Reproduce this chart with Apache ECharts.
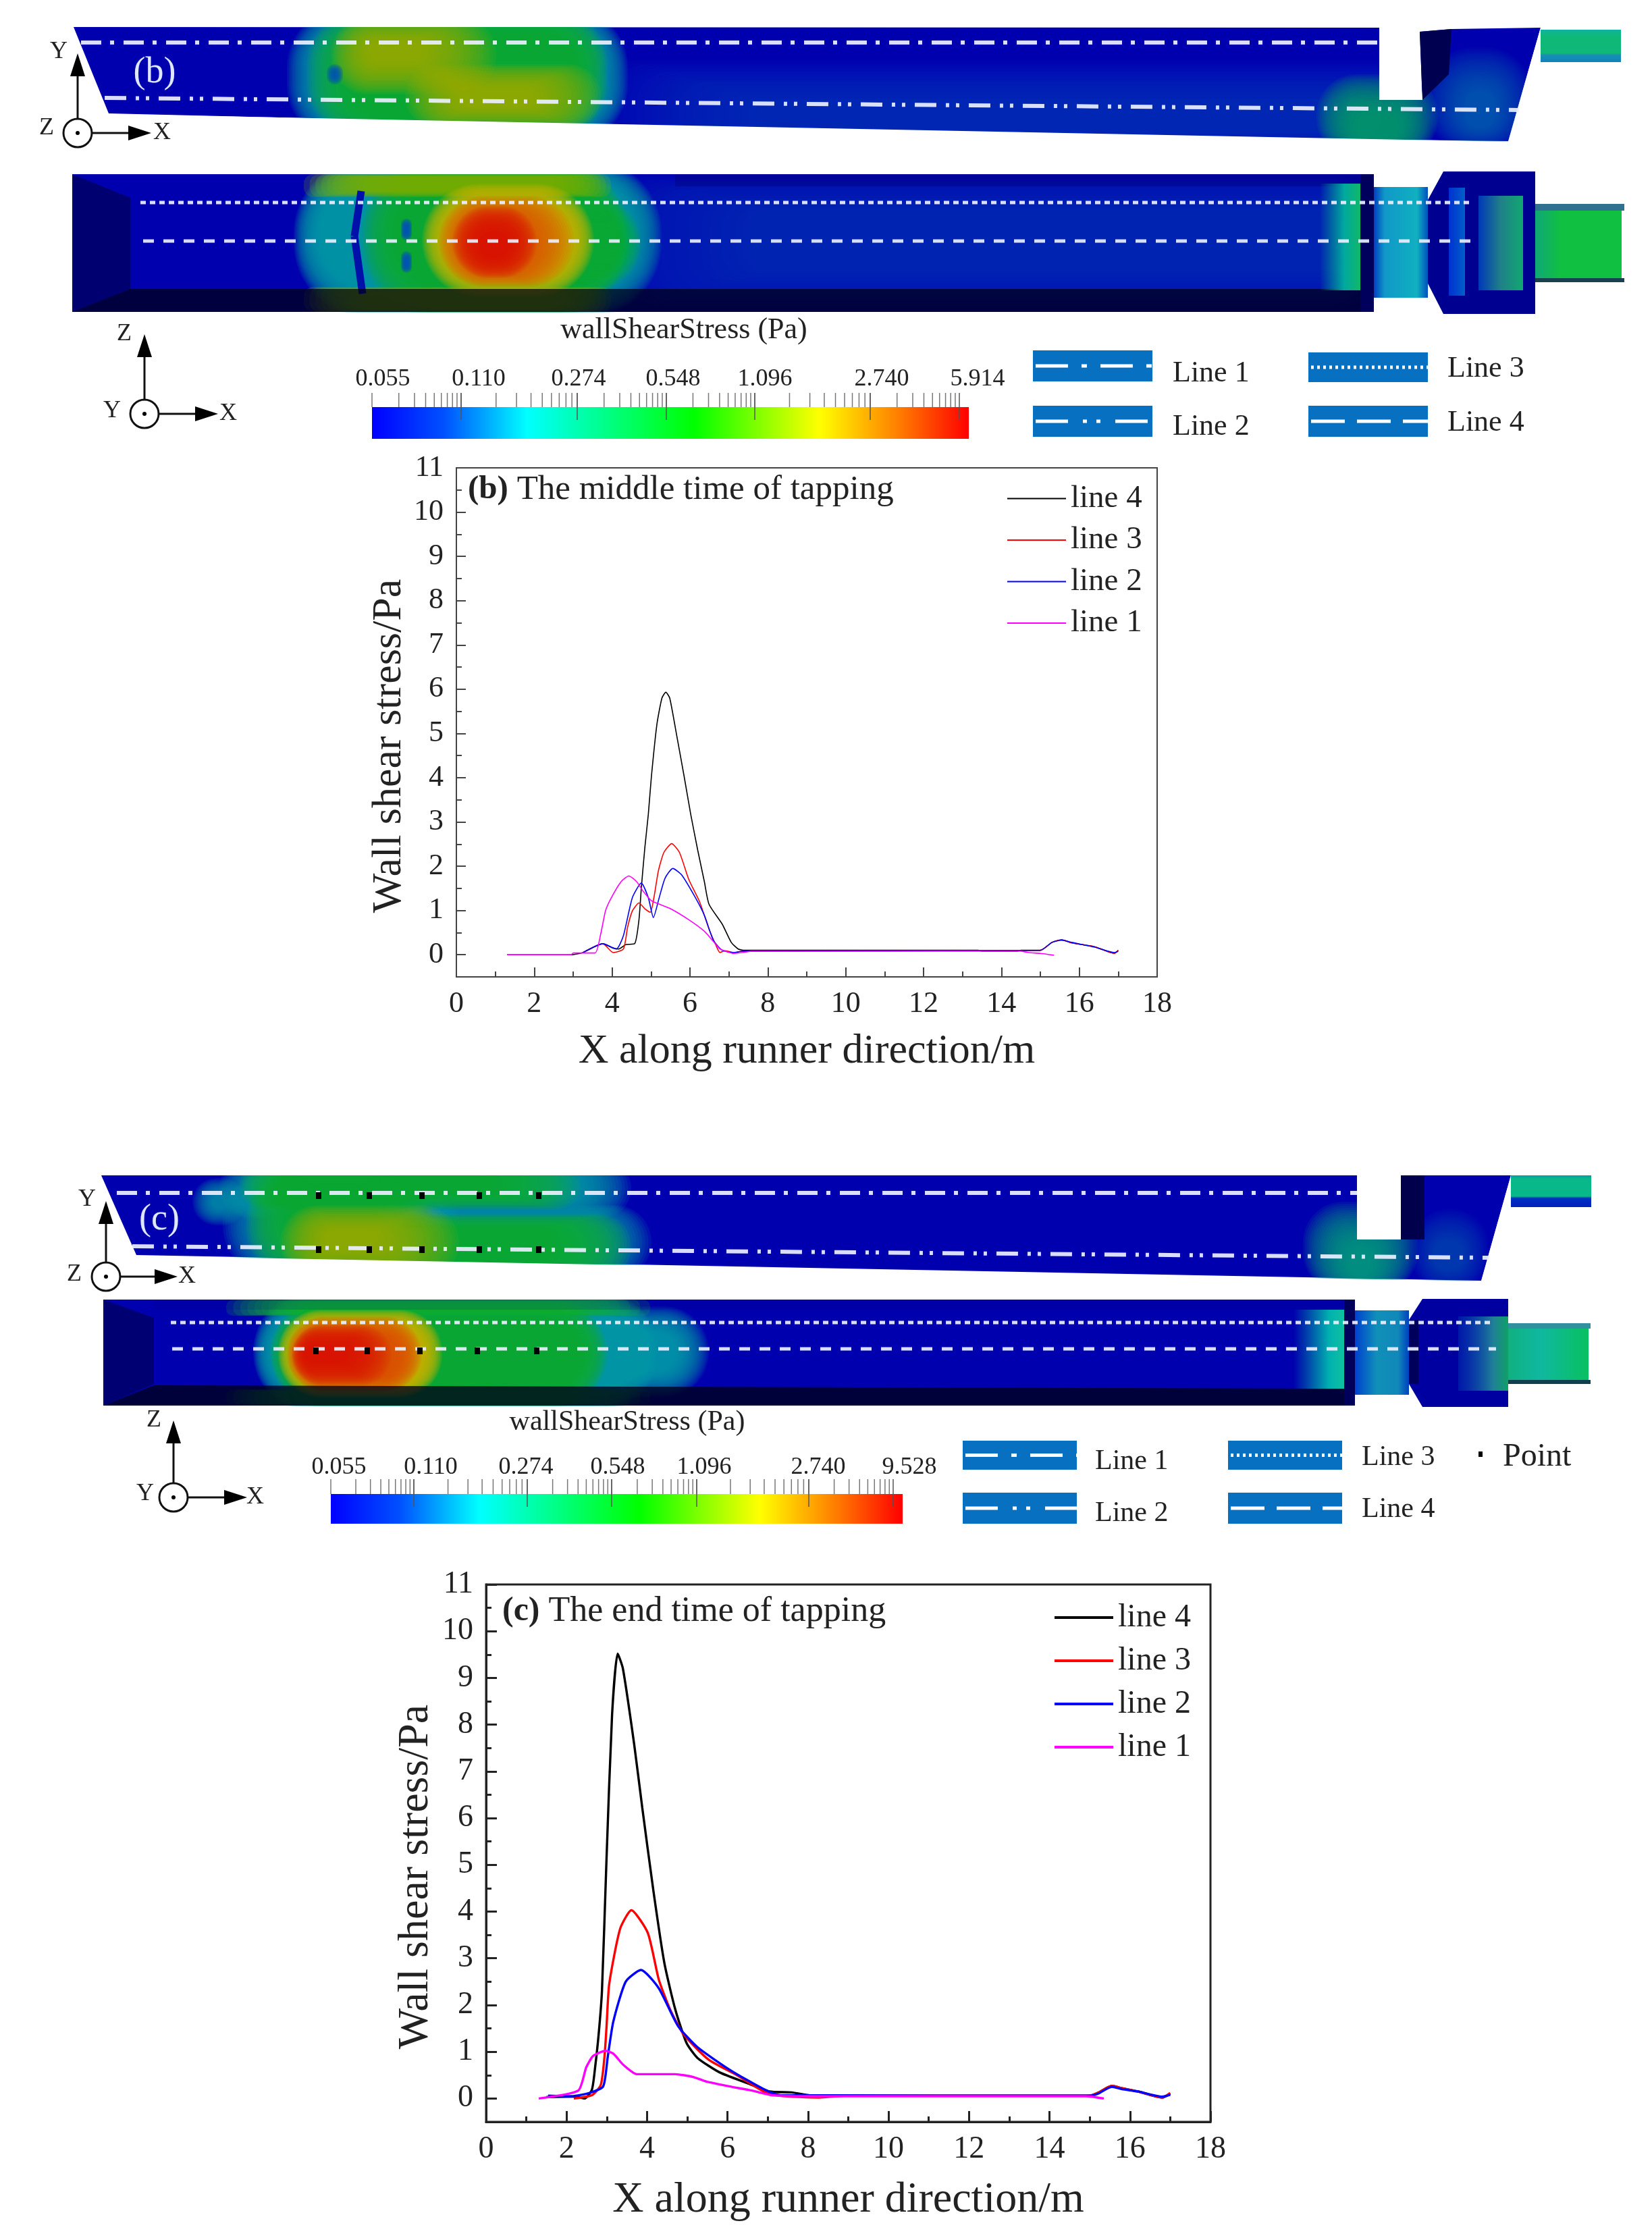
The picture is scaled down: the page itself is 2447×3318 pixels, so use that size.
<!DOCTYPE html>
<html>
<head>
<meta charset="utf-8">
<title>Wall shear stress along the runner</title>
<style>
  html, body { margin: 0; background: #fff; }
  #chart { width: 2447px; height: 3318px; filter: blur(0.7px); }
</style>
<script src="https://cdn.jsdelivr.net/npm/echarts@6/dist/echarts.min.js"></script>
</head>
<body>
<div id="chart"></div>
<script>
const xTicks = [0, 2, 4, 6, 8, 10, 12, 14, 16, 18]
const yTicks = [0, 1, 2, 3, 4, 5, 6, 7, 8, 9, 10, 11]
const lineNames = ['line 4', 'line 3', 'line 2', 'line 1']

// middle time of tapping, [x, stress]
const midLine4 = [[1.3,0],[2.95,0],[3.25,.05],[3.54,.18],[3.76,.25],[4.03,.15],[4.17,.13],[4.35,.23],[4.58,.25],[4.69,.79],[4.75,1.5],[4.84,2.41],[4.93,3.17],[5.01,4.03],[5.15,5.2],[5.28,5.8],[5.38,5.93],[5.48,5.8],[5.65,5],[5.85,4.03],[6.02,3.17],[6.2,2.36],[6.37,1.65],[6.49,1.14],[6.83,.69],[7.06,.28],[7.24,.13],[7.4,.1],[13.4,.1],[13.5,.08],[14.4,.08],[14.5,.1],[15,.1],[15.3,.28],[15.55,.34],[15.8,.27],[16.4,.18],[16.9,.03],[17,.1]]
const midLine3 = [[3.25,.05],[3.76,.25],[4.03,.05],[4.29,.13],[4.4,.63],[4.52,.99],[4.69,1.17],[4.84,1.04],[4.98,.96],[5.07,1.27],[5.19,1.9],[5.33,2.31],[5.53,2.51],[5.73,2.31],[5.97,1.7],[6.25,1.19],[6.49,.58],[6.66,.23],[6.77,.05],[6.9,.09],[7.12,.05],[7.35,.08],[15,.1],[15.3,.28],[15.55,.34],[15.8,.27],[16.4,.18],[16.9,.03],[17,.1]]
const midLine2 = [[3.25,.05],[3.54,.18],[3.76,.25],[4.11,.13],[4.29,.43],[4.52,1.29],[4.75,1.62],[4.93,1.29],[5.06,.84],[5.21,1.29],[5.36,1.73],[5.56,1.95],[5.79,1.8],[6.14,1.29],[6.37,.89],[6.6,.33],[6.83,.1],[7.12,.05],[7.35,.08],[15,.1],[15.3,.28],[15.55,.33],[15.8,.28],[16.4,.17],[16.9,.05],[17,.08]]
const midLine1 = [[1.3,0],[2.95,0],[3,.04],[3.56,.04],[3.71,.48],[3.83,.99],[3.97,1.27],[4.23,1.65],[4.43,1.78],[4.63,1.65],[4.81,1.42],[5.01,1.22],[5.19,1.15],[5.5,1.04],[5.97,.79],[6.37,.53],[6.6,.3],[6.77,.13],[6.89,.09],[7.12,.03],[7.35,.05],[7.6,.08],[14.5,.08],[14.7,.05],[15,.03],[15.35,-.01]]

// end time of tapping, [x, stress]
const endLine4 = [[1.5,.03],[2.2,.04],[2.45,0],[2.63,.19],[2.71,.67],[2.8,1.4],[2.88,2.31],[2.99,5.06],[3.13,8.2],[3.27,9.52],[3.4,9.2],[3.68,7.58],[3.88,6.23],[4.16,4.43],[4.43,2.9],[4.7,1.91],[4.98,1.19],[5.25,.87],[5.8,.56],[6.49,.33],[7.04,.15],[7.59,.13],[8.13,.06],[15,.06],[15.2,.12],[15.55,.27],[15.8,.22],[16.2,.15],[16.8,.02],[17,.1]]
const endLine3 = [[2.18,0],[2.63,.07],[2.85,.29],[2.94,.87],[2.99,1.49],[3.06,2.45],[3.33,3.63],[3.61,4.03],[4.02,3.54],[4.29,2.55],[4.57,1.91],[4.91,1.37],[5.53,.83],[6.21,.51],[6.9,.15],[7.31,.06],[8.27,.02],[8.96,.06],[15,.06],[15.2,.12],[15.55,.27],[15.8,.22],[16.2,.15],[16.8,.02],[17,.12]]
const endLine2 = [[1.54,.06],[2.13,.05],[2.57,.12],[2.91,.26],[3.02,.87],[3.16,1.64],[3.47,2.5],[3.85,2.75],[4.29,2.36],[4.77,1.55],[5.25,1.1],[6.08,.6],[6.9,.2],[7.31,.07],[15,.06],[15.2,.1],[15.55,.25],[15.8,.2],[16.2,.15],[16.8,.04],[17,.08]]
const endLine1 = [[1.31,0],[2.29,.17],[2.49,.67],[2.66,.91],[2.97,1.02],[3.16,.96],[3.41,.72],[3.75,.52],[4.7,.52],[5.15,.46],[5.48,.36],[6.04,.26],[6.6,.17],[7.1,.07],[7.72,.05],[14.9,.05],[15.35,0]]

const midScaleLabels = ['0.055', '0.110', '0.274', '0.548', '1.096', '2.740', '5.914']
const endScaleLabels = ['0.055', '0.110', '0.274', '0.548', '1.096', '2.740', '9.528']

const serif = '"Liberation Serif"'
const lineColors = ['#000000', '#ff0000', '#0000ff', '#ff00ff']
const tealC = '#00a0a8'
const greenC = '#10b030'
const oliveC = '#a8ae00'
const yellowC = '#d0b800'
const orangeC = '#e05000'
const redC = '#d81408'
const liftC = '#1040c0'

function poly(points, fill) {
  return { type: 'polygon', silent: true, shape: { points }, style: { fill } }
}
function box(x, y, w, h, fill) {
  return { type: 'rect', silent: true, shape: { x, y, width: w, height: h }, style: { fill } }
}
function linear(x0, y0, x1, y1, stops) {
  return new echarts.graphic.LinearGradient(x0, y0, x1, y1, stops.map(s => ({ offset: s[0], color: s[1] })))
}
// soft patch: stacked rounded boxes going from outer to inner, each a bit more opaque on top of the last
function field(outer, inner, color, steps, alpha) {
  const n = steps || 24
  const out = []
  for (let i = 0; i < n; i++) {
    const t = i / (n - 1)
    const p = outer.map((v, k) => v + (inner[k] - v) * t)
    out.push({
      type: 'rect', silent: true,
      shape: { x: p[0], y: p[1], width: p[2] - p[0], height: p[3] - p[1], r: p[4] },
      style: { fill: color, opacity: alpha || 0.12 }
    })
  }
  return out
}
function seg(x1, y1, x2, y2, color, width, dash) {
  return {
    type: 'line', silent: true, shape: { x1, y1, x2, y2 },
    style: { stroke: color, lineWidth: width, lineDash: dash || null }
  }
}
function label(text, x, y, size, opts) {
  return {
    type: 'text', silent: true, x, y,
    style: Object.assign({ text, fontSize: size, fontFamily: serif, fill: '#222', align: 'center', verticalAlign: 'middle' }, opts || {})
  }
}

const dashOne = [30, 13, 6, 14]
const dashTwo = [32, 14, 5, 10, 5, 14]
const dashThree = [8, 6]
const dashFour = [16, 14]
const dashColor = 'rgba(235,240,255,0.92)'

function axesIcon(cx, cy, up, right, names) {
  return [
    seg(cx, cy - 21, cx, up + 22, '#111', 3),
    poly([[cx, up], [cx - 11, up + 34], [cx + 11, up + 34]], '#000'),
    seg(cx + 21, cy, right - 22, cy, '#111', 3),
    poly([[right, cy], [right - 34, cy - 11], [right - 34, cy + 11]], '#000'),
    { type: 'circle', silent: true, shape: { cx, cy, r: 21 }, style: { fill: '#fff', stroke: '#111', lineWidth: 3 } },
    { type: 'circle', silent: true, shape: { cx, cy, r: 3 }, style: { fill: '#000' } },
    label(names[0].t, names[0].x, names[0].y, 36),
    label(names[1].t, names[1].x, names[1].y, 36),
    label('X', names[2].x, names[2].y, 36)
  ]
}

function colorBar(left, right, top, bottom, tickTop, majorEnd, majors, names, nameXs, nameY) {
  const out = [box(left, top, right - left, bottom - top, linear(0, 0, 1, 0, [
    [0, '#0000ff'], [.12, '#0050ff'], [.26, '#00ffff'], [.54, '#00ff00'], [.75, '#ffff00'], [.88, '#ff8000'], [1, '#ff0000']
  ]))]
  const edges = [left].concat(majors)
  for (let i = 0; i < edges.length - 1; i++) {
    for (let n = 1; n < 10; n++) {
      const px = edges[i] + Math.log10(n) * (edges[i + 1] - edges[i])
      out.push(seg(px, tickTop, px, top, '#777', 1.5))
    }
  }
  majors.forEach(px => out.push(seg(px, tickTop, px, majorEnd, '#555', 1.5)))
  names.forEach((t, i) => out.push(label(t, nameXs[i], nameY, 36)))
  return out
}

function swatch(x, y, w, h, dash, width) {
  return [box(x, y, w, h, '#0870c0'), seg(x + 4, y + h / 2, x + w, y + h / 2, '#fff', width, dash)]
}

// top block (b), contour views
const panelB = [
  // side view
  poly([[109,40],[2043,41],[2043,148],[2107,148],[2103,47],[2150,43],[2282,41],[2234,209],[1500,200],[161,168]], '#0000ae'),
  ...field([880,90,2130,230,60], [1120,150,1990,195,20], liftC, 24, 0.04),
  ...field([425,10,930,215,90], [485,46,875,176,50], tealC),
  ...field([455,15,900,205,80], [530,55,850,170,45], greenC),
  ...field([490,25,735,140,55], [545,62,625,92,15], oliveC, 24, 0.08),
  ...field([600,95,890,190,47], [680,130,790,158,14], oliveC, 24, 0.08),
  ...field([484,95,508,125,12], [494,106,498,114,2], '#0050b8', 8, 0.25),
  ...field([1950,110,2130,235,60], [2010,170,2070,205,16], '#0aa070', 24, 0.1),
  ...field([2110,70,2270,225,70], [2170,135,2215,190,20], '#0070b0', 24, 0.05),
  poly([[2103,47],[2150,43],[2146,110],[2107,148]], '#000050'),
  // white masks around the side view
  box(100, 0, 2310, 40, '#fff'),
  poly([[100,169],[161,169],[2234,210],[2300,210],[2300,257],[100,257]], '#fff'),
  poly([[2043,41],[2100,41],[2107,148],[2043,148]], '#fff'),
  poly([[2282,41],[2310,41],[2310,210],[2234,210]], '#fff'),
  box(2282, 44, 119, 48, linear(0, 0, 0, 1, [[0,'#0cb4a0'],[.2,'#10b878'],[.72,'#10b878'],[.78,'#1890b0'],[1,'#1080c0']])),
  seg(120, 63, 2043, 63, dashColor, 6, dashOne),
  seg(155, 145, 2250, 163, dashColor, 6, dashTwo),
  label('(b)', 229, 108, 54, { fill: '#dfe6ff' }),
  // front view
  box(107, 258, 1928, 204, '#0000ae'),
  ...field([880,258,2035,462,60], [1110,310,1990,400,30], liftC, 24, 0.05),
  ...field([435,235,980,470,110], [475,268,925,425,75], tealC),
  ...field([535,235,930,470,110], [590,274,885,420,70], greenC),
  ...field([790,290,950,430,70], [830,330,915,390,30], greenC, 24, 0.08),
  ...field([450,258,905,292,14], [545,262,820,282,8], '#7ab000', 12, 0.2),
  ...field([450,425,905,462,14], [545,432,820,458,8], '#7ab000', 12, 0.2),
  ...field([625,272,880,440,84], [665,305,840,405,50], yellowC),
  ...field([650,290,850,425,67], [700,330,762,392,30], orangeC, 24, 0.1),
  ...field([670,305,795,412,53], [712,345,752,380,17], redC, 24, 0.1),
  seg(535, 283, 525, 350, '#0010a8', 11),
  seg(525, 350, 537, 435, '#0010a8', 11),
  ...field([594,324,610,356,8], [600,335,604,345,2], '#0050b8', 8, 0.3),
  ...field([594,372,610,404,8], [600,384,604,394,2], '#0050b8', 8, 0.3),
  poly([[107,258],[193,293],[193,428],[107,462]], '#000070'),
  poly([[107,462],[193,428],[2035,428],[2035,462]], 'rgba(0,0,20,.72)'),
  poly([[1000,258],[2035,258],[2015,276],[1000,276]], 'rgba(0,0,100,.3)'),
  box(1955, 272, 60, 158, linear(0, 0, 1, 0, [[0,'rgba(0,170,140,0)'],[.6,'#00a8a0'],[1,'#10b868']])),
  box(2015, 258, 20, 204, '#00005c'),
  box(2035, 277, 80, 164, linear(0, 0, 1, 0, [[0,'#0040c0'],[.2,'#1098c8'],[.8,'#10b0c0'],[1,'#0050c0']])),
  poly([[2115,296],[2138,254],[2274,254],[2274,465],[2138,465],[2115,420]], '#000090'),
  box(2146, 278, 24, 160, linear(0, 0, 1, 0, [[0,'#0030d0'],[1,'#0060c8']])),
  box(2190, 290, 66, 140, linear(0, 0, 1, 0, [[0,'#0038b8'],[.5,'#208088'],[1,'#10a870']])),
  box(2274, 302, 128, 116, linear(0, 0, 1, 0, [[0,'#10a878'],[.3,'#10c040'],[1,'#10c040']])),
  box(2274, 302, 132, 10, '#307090'),
  box(2274, 412, 132, 6, '#184050'),
  seg(208, 300, 2182, 300, dashColor, 5, dashThree),
  seg(212, 357, 2182, 357, dashColor, 5, dashFour),
  box(400, 463, 620, 20, '#fff'),
  box(400, 200, 620, 58, '#fff'),
  label('wallShearStress (Pa)', 1013, 489, 44),
  ...swatch(1530, 519, 177, 46, [48, 20, 8, 20], 5),
  ...swatch(1530, 601, 177, 46, [48, 22, 6, 14, 6, 22], 5),
  ...swatch(1938, 522, 177, 44, [4, 5], 5),
  ...swatch(1938, 601, 177, 46, [50, 18], 5),
  label('Line 1', 1737, 553, 44, { align: 'left' }),
  label('Line 2', 1737, 632, 44, { align: 'left' }),
  label('Line 3', 2144, 546, 44, { align: 'left' }),
  label('Line 4', 2144, 626, 44, { align: 'left' })
]

// lower block (c), contour views
const panelC = [
  // side view
  poly([[150,1741],[2010,1741],[2010,1836],[2075,1836],[2075,1741],[2238,1741],[2194,1897],[202,1859]], '#0000ae'),
  ...field([285,1745,365,1815,35], [315,1770,335,1790,10], tealC, 16, 0.1),
  ...field([325,1715,935,1805,45], [400,1741,830,1772,15], tealC),
  ...field([330,1730,680,1895,80], [420,1760,580,1855,40], tealC),
  ...field([400,1785,965,1895,55], [490,1815,860,1872,28], tealC),
  ...field([355,1720,860,1792,36], [440,1741,720,1765,12], greenC),
  ...field([365,1735,640,1890,70], [440,1765,560,1850,40], greenC),
  ...field([430,1798,935,1895,48], [520,1822,810,1872,25], greenC),
  ...field([415,1785,680,1895,55], [480,1822,560,1850,14], oliveC, 24, 0.08),
  ...field([1930,1780,2100,1915,60], [2000,1850,2030,1890,14], '#0aa080', 24, 0.1),
  ...field([2090,1790,2205,1915,55], [2125,1840,2165,1880,18], '#0060b0', 24, 0.04),
  box(2075, 1741, 35, 95, '#00004c'),
  box(140, 1700, 2230, 41, '#fff'),
  poly([[190,1860],[202,1860],[2194,1898],[2260,1898],[2260,1924],[190,1924]], '#fff'),
  poly([[2010,1730],[2075,1730],[2075,1836],[2010,1836]], '#fff'),
  poly([[2238,1741],[2265,1741],[2265,1898],[2194,1898]], '#fff'),
  box(2238, 1741, 119, 47, linear(0, 0, 0, 1, [[0,'#0898a8'],[.1,'#08b888'],[.66,'#08b888'],[.72,'#0030c0'],[1,'#0020c0']])),
  seg(173, 1767, 2010, 1767, dashColor, 6, dashOne),
  seg(196, 1846, 2206, 1863, dashColor, 6, dashTwo),
  label('(c)', 236, 1807, 54, { fill: '#dfe6ff' }),
  // front view
  box(153, 1925, 1854, 157, '#0000ae'),
  ...field([375,1915,975,2090,85], [405,1950,920,2056,50], tealC),
  ...field([800,1935,1050,2070,67], [860,1975,1000,2030,27], tealC, 24, 0.1),
  ...field([400,1925,900,2085,80], [432,1958,860,2056,48], greenC),
  ...field([335,1925,963,1949,10], [450,1928,800,1945,6], greenC, 12, 0.2),
  ...field([335,2058,963,2082,10], [450,2062,800,2078,6], greenC, 12, 0.2),
  ...field([412,1940,655,2070,62], [438,1962,622,2052,44], yellowC),
  ...field([425,1950,625,2062,56], [450,1980,590,2040,30], orangeC, 24, 0.1),
  ...field([432,1962,580,2052,45], [452,1995,512,2016,10], redC, 24, 0.1),
  poly([[153,1925],[228,1952],[228,2050],[153,2082]], '#000072'),
  poly([[153,2082],[228,2052],[2007,2057],[2007,2082]], 'rgba(0,0,25,.78)'),
  poly([[228,1925],[2007,1925],[1991,1940],[228,1940]], 'rgba(0,0,120,.15)'),
  box(1916, 1940, 75, 117, linear(0, 0, 1, 0, [[0,'rgba(0,170,160,0)'],[.7,'#00b0b0'],[1,'#10c0a0']])),
  box(1991, 1925, 16, 157, '#00005c'),
  box(2007, 1941, 80, 125, linear(0, 0, 1, 0, [[0,'#0040d0'],[.4,'#1090b8'],[.8,'#1088b8'],[1,'#0040c0']])),
  poly([[2087,1955],[2107,1924],[2234,1924],[2234,2084],[2107,2084],[2087,2050]], '#0000a0'),
  box(2087, 1955, 14, 95, '#00005c'),
  box(2160, 1950, 74, 110, linear(0, 0, 1, 0, [[0,'rgba(0,60,180,.4)'],[.7,'#208098'],[1,'#10a068']])),
  box(2234, 1963, 119, 84, linear(0, 0, 1, 0, [[0,'#10b080'],[.4,'#10b8a0'],[1,'#08c060']])),
  box(2234, 1960, 122, 8, '#3090a0'),
  box(2234, 2044, 122, 6, '#104050'),
  seg(253, 1959, 2210, 1959, dashColor, 5, dashThree),
  seg(255, 1998, 2216, 1998, dashColor, 5, dashFour),
  // point markers
  ...[472, 547, 625, 710, 798].map(x => box(x - 4, 1766, 8, 10, '#000')),
  ...[472, 547, 625, 710, 798].map(x => box(x - 4, 1846, 8, 10, '#000')),
  ...[468, 544, 622, 707, 795].map(x => box(x - 4, 1996, 8, 10, '#000')),
  box(370, 1885, 620, 40, '#fff'),
  box(370, 2083, 620, 10, '#fff'),
  label('wallShearStress (Pa)', 929, 2107, 42),
  ...swatch(1426, 2134, 169, 43, [48, 20, 8, 20], 5),
  ...swatch(1426, 2211, 169, 46, [48, 22, 6, 14, 6, 22], 5),
  ...swatch(1819, 2134, 169, 43, [4, 5], 5),
  ...swatch(1819, 2211, 169, 46, [50, 18], 5),
  label('Line 1', 1622, 2165, 42, { align: 'left' }),
  label('Line 2', 1622, 2242, 42, { align: 'left' }),
  label('Line 3', 2017, 2159, 42, { align: 'left' }),
  label('Line 4', 2017, 2236, 42, { align: 'left' }),
  box(2190, 2150, 6, 8, '#000'),
  label('Point', 2226, 2158, 48, { align: 'left' })
]

const icons = [
  ...axesIcon(115, 197, 79, 224, [{ t: 'Y', x: 87, y: 77 }, { t: 'Z', x: 69, y: 190 }, { x: 240, y: 197 }]),
  ...axesIcon(214, 613, 495, 323, [{ t: 'Z', x: 184, y: 495 }, { t: 'Y', x: 166, y: 609 }, { x: 338, y: 613 }]),
  ...axesIcon(157, 1891, 1779, 263, [{ t: 'Y', x: 129, y: 1777 }, { t: 'Z', x: 110, y: 1888 }, { x: 277, y: 1891 }]),
  ...axesIcon(257, 2218, 2104, 366, [{ t: 'Z', x: 228, y: 2104 }, { t: 'Y', x: 215, y: 2213 }, { x: 378, y: 2218 }])
]

const bars = [
  ...colorBar(551, 1435, 603, 650, 582, 622, [683, 855, 987, 1118, 1289, 1421], midScaleLabels, [567, 709, 857, 997, 1133, 1306, 1448], 562),
  ...colorBar(490, 1337, 2213, 2257, 2191, 2232, [613, 781, 906, 1032, 1198, 1323], endScaleLabels, [502, 638, 779, 915, 1043, 1212, 1347], 2174)
]

function valueX(grid, size) {
  return {
    type: 'value', gridIndex: grid, min: 0, max: 18, interval: 2,
    name: 'X along runner direction/m', nameLocation: 'middle', nameGap: size.xGap,
    nameTextStyle: { fontFamily: serif, fontSize: size.name, color: '#222' },
    axisLine: { onZero: false, lineStyle: { color: size.frame, width: size.border } },
    axisTick: { inside: true, length: size.major, lineStyle: { color: size.frame, width: size.border } },
    minorTick: { show: true, splitNumber: 2, length: size.minor, lineStyle: { color: size.frame, width: size.border } },
    axisLabel: { fontFamily: serif, fontSize: size.tick, color: '#222', margin: 18, customValues: xTicks },
    splitLine: { show: false }
  }
}
function valueY(grid, size) {
  return {
    type: 'value', gridIndex: grid, min: -0.5, max: 11, interval: 0.5, position: 'left',
    name: 'Wall shear stress/Pa', nameLocation: 'middle', nameGap: size.yGap,
    nameTextStyle: { fontFamily: serif, fontSize: size.name, color: '#222', padding: [0, 70, 0, 0] },
    axisLine: { onZero: false, lineStyle: { color: size.frame, width: size.border } },
    axisTick: { inside: true, length: size.minor, lineStyle: { color: size.frame, width: size.border } },
    axisLabel: { fontFamily: serif, fontSize: size.tick, color: '#222', margin: 19, showMinLabel: false, formatter: v => yTicks.includes(v) ? String(v) : '' },
    splitLine: { show: false }
  }
}
function majorY(grid, size) {
  return {
    type: 'value', gridIndex: grid, min: -0.5, max: 11, interval: 0.5, position: 'left',
    axisLine: { show: false },
    axisTick: { inside: true, length: size.major, customValues: yTicks, lineStyle: { color: size.frame, width: size.border } },
    axisLabel: { show: false },
    splitLine: { show: false }
  }
}
function lines(grid, yIndex, groups, width) {
  return groups.map((data, i) => ({
    type: 'line', name: lineNames[i], data, xAxisIndex: grid, yAxisIndex: yIndex,
    symbol: 'none', smooth: 0.2,
    lineStyle: { color: lineColors[i], width }, itemStyle: { color: lineColors[i] }
  }))
}
function lineLegend(left, top, gap, size, width) {
  return {
    orient: 'vertical', left, top, data: lineNames, selectedMode: false, icon: 'rect',
    itemWidth: 87, itemHeight: width, itemGap: gap,
    textStyle: { fontFamily: serif, fontSize: size, color: '#222', padding: [0, 0, 0, 2] }
  }
}

const midSize = { frame: '#444', border: 2, major: 14, minor: 8, tick: 44, name: 62, xGap: 80, yGap: 68 }
const endSize = { frame: '#222', border: 3, major: 16, minor: 8, tick: 46, name: 64, xGap: 84, yGap: 72 }

const chart = echarts.init(document.getElementById('chart'))
chart.setOption({
  animation: false,
  backgroundColor: '#fff',
  title: [
    {
      text: '{h|(b)} The middle time of tapping', left: 688, top: 695,
      textStyle: { fontFamily: serif, fontSize: 51, fontWeight: 'normal', color: '#222', rich: { h: { fontFamily: serif, fontSize: 49, fontWeight: 'bold', color: '#222' } } }
    },
    {
      text: '{h|(c)} The end time of tapping', left: 739, top: 2356,
      textStyle: { fontFamily: serif, fontSize: 52, fontWeight: 'normal', color: '#222', rich: { h: { fontFamily: serif, fontSize: 50, fontWeight: 'bold', color: '#222' } } }
    }
  ],
  grid: [
    { left: 676, top: 693, width: 1038, height: 754, show: true, borderColor: midSize.frame, borderWidth: midSize.border },
    { left: 720, top: 2347, width: 1073, height: 796, show: true, borderColor: endSize.frame, borderWidth: endSize.border }
  ],
  xAxis: [valueX(0, midSize), valueX(1, endSize)],
  yAxis: [valueY(0, midSize), majorY(0, midSize), valueY(1, endSize), majorY(1, endSize)],
  legend: [
    lineLegend(1487, 710, 14.5, 47, 2),
    lineLegend(1557, 2367, 16, 48, 4)
  ],
  series: [
    ...lines(0, 0, [midLine4, midLine3, midLine2, midLine1], 1.6),
    ...lines(1, 2, [endLine4, endLine3, endLine2, endLine1], 3.4)
  ],
  graphic: { elements: [...panelB, ...panelC, ...icons, ...bars] }
})

window.addEventListener('resize', () => chart.resize())
</script>
</body>
</html>
